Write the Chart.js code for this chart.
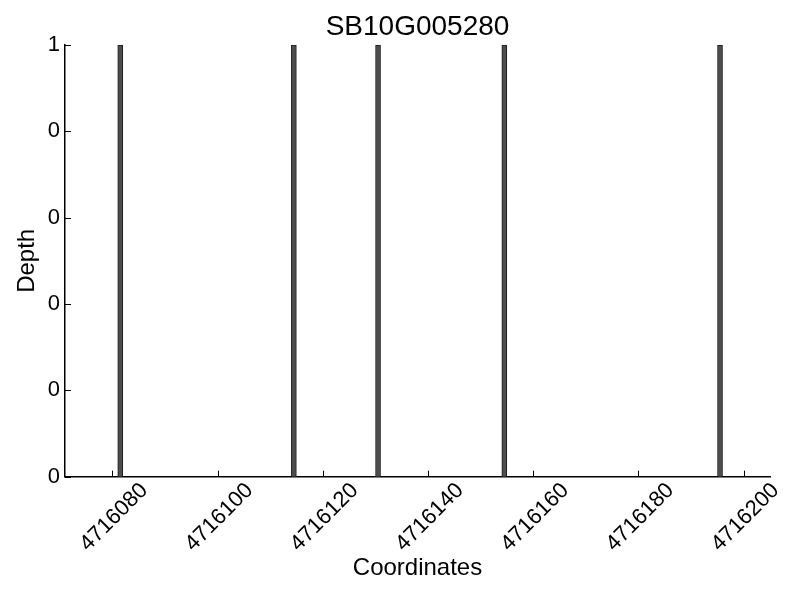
<!DOCTYPE html>
<html>
<head>
<meta charset="utf-8">
<script src="https://cdn.jsdelivr.net/npm/chart.js@4.4.0/dist/chart.umd.min.js"></script>
<style>
  body { margin: 0; background: #fff; }
  #wrap { width: 800px; height: 600px; }
</style>
</head>
<body>
<div id="wrap"><canvas id="myChart"></canvas></div>
<script>
// data
const chartTitle = 'SB10G005280';
const positions = [4716081, 4716114, 4716130, 4716154, 4716195];
const depths = [1, 1, 1, 1, 1];
const xTickValues = [4716080, 4716100, 4716120, 4716140, 4716160, 4716180, 4716200];
const yTickValues = [0, 0.2, 0.4, 0.6, 0.8, 1];
const yTickLabels = ['0', '0', '0', '0', '0', '1'];
const xMin = 4716071;
const xMax = 4716205;

const font = 'Liberation Sans, Arial, sans-serif';

// each bar covers one base, so center it half a unit right of its start
const barData = positions.map((p, i) => ({ x: p + 0.5, y: depths[i] }));

// matplotlib-like inward tick marks
const inwardTicks = {
    id: 'inwardTicks',
    afterDatasetsDraw(chart) {
        const ctx = chart.ctx;
        const xs = chart.scales.x;
        const ys = chart.scales.y;
        const area = chart.chartArea;
        ctx.save();
        ctx.strokeStyle = '#000';
        ctx.lineWidth = 1;
        ctx.beginPath();
        xs.ticks.forEach(t => {
            const px = Math.round(xs.getPixelForValue(t.value)) + 0.5;
            ctx.moveTo(px, area.bottom);
            ctx.lineTo(px, area.bottom - 6);
        });
        ys.ticks.forEach(t => {
            const py = Math.round(ys.getPixelForValue(t.value)) + 0.5;
            ctx.moveTo(area.left, py);
            ctx.lineTo(area.left + 6, py);
        });
        ctx.stroke();
        ctx.restore();
    }
};

const data = {
    datasets: [{
        label: 'Depth',
        data: barData,
        backgroundColor: '#4d4d4d',
        borderColor: '#1a1a1a',
        borderWidth: 1,
        barThickness: 5,
    }]
};

const config = {
    type: 'bar',
    data: data,
    options: {
        responsive: false,
        animation: false,
        layout: { padding: { left: 0, right: 30, top: 0, bottom: 0 } },
        plugins: {
            legend: { display: false },
            tooltip: { enabled: false },
            title: {
                display: true,
                text: chartTitle,
                fullSize: false,
                color: '#000',
                font: { family: font, size: 28, weight: 'normal' },
                padding: { top: 10.5, bottom: 0.9 }
            }
        },
        scales: {
            x: {
                type: 'linear',
                min: xMin,
                max: xMax,
                offset: false,
                grid: { display: false, drawTicks: false },
                border: { display: true, color: '#000', width: 1.5 },
                afterBuildTicks: s => { s.ticks = xTickValues.map(v => ({ value: v })); },
                afterFit: s => { s.height = 123.3; s.paddingLeft = 0; s.paddingRight = 0; },
                ticks: {
                    autoSkip: false,
                    minRotation: 45,
                    maxRotation: 45,
                    labelOffset: 32,
                    padding: 1,
                    color: '#000',
                    font: { family: font, size: 22 },
                    callback: v => String(v)
                },
                title: {
                    display: true,
                    text: 'Coordinates',
                    color: '#000',
                    font: { family: font, size: 24 },
                    padding: { top: 0, bottom: 17.6 }
                }
            },
            y: {
                min: 0,
                max: 1,
                grid: { display: false, drawTicks: false },
                border: { display: true, color: '#000', width: 1.5 },
                afterBuildTicks: s => { s.ticks = yTickValues.map(v => ({ value: v })); },
                afterFit: s => { s.width = 65; },
                ticks: {
                    padding: 5,
                    color: '#000',
                    font: { family: font, size: 22 },
                    callback: (v, i) => yTickLabels[i]
                },
                title: {
                    display: true,
                    text: 'Depth',
                    color: '#000',
                    font: { family: font, size: 24 },
                    padding: { top: 13, bottom: 0 }
                }
            }
        }
    },
    plugins: [inwardTicks]
};

const canvas = document.getElementById('myChart');
canvas.width = 800;
canvas.height = 600;
let myChart = new Chart(canvas.getContext('2d'), config);
</script>
</body>
</html>
